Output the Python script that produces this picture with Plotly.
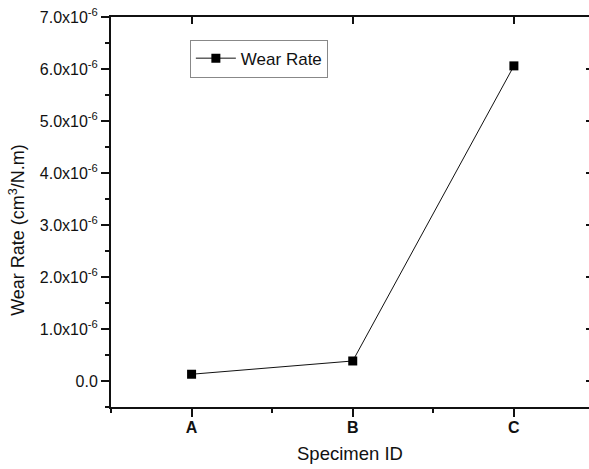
import plotly.graph_objects as go

categories = ["A", "B", "C"]
wear_rate = [0.13e-6, 0.385e-6, 6.06e-6]
y_tick_vals = [0, 1e-6, 2e-6, 3e-6, 4e-6, 5e-6, 6e-6, 7e-6]
y_tick_text = ["0.0", "1.0x10<sup>-6</sup>", "2.0x10<sup>-6</sup>", "3.0x10<sup>-6</sup>",
               "4.0x10<sup>-6</sup>", "5.0x10<sup>-6</sup>", "6.0x10<sup>-6</sup>", "7.0x10<sup>-6</sup>"]

x_idx = list(range(len(categories)))
FONT = "Arial, 'Liberation Sans', sans-serif"
XR = [-0.5, 2.466]
YR = [-0.5e-6, 7.0e-6]

fig = go.Figure()
fig.add_trace(go.Scatter(
    x=x_idx, y=wear_rate, mode="lines+markers", name="Wear Rate",
    line=dict(color="#111", width=1),
    marker=dict(symbol="square", size=9, color="#000"),
))
# invisible trace to anchor the mirrored (top/right) axes
fig.add_trace(go.Scatter(
    x=x_idx, y=wear_rate, xaxis="x2", yaxis="y2", mode="lines",
    line=dict(width=0), opacity=0, showlegend=False, hoverinfo="skip",
))

fig.update_layout(
    width=589, height=469,
    margin=dict(l=111, r=0, t=17, b=62),
    paper_bgcolor="white", plot_bgcolor="white",
    font=dict(family=FONT, color="#111"),
    showlegend=True,
    legend=dict(
        x=0.165, y=0.942, xanchor="left", yanchor="top",
        bordercolor="#888", borderwidth=1, bgcolor="white",
        font=dict(size=17, family=FONT, color="#111"),
        itemwidth=40, tracegroupgap=0,
    ),
    xaxis=dict(
        range=XR, tickvals=x_idx, ticktext=["<b>%s</b>" % c for c in categories],
        tickfont=dict(size=16, family=FONT, color="#111"),
        showline=True, linecolor="#111", linewidth=2, mirror=False,
        ticks="outside", ticklen=8, tickwidth=1.5, tickcolor="#111",
        ticklabelstandoff=-3,
        minor=dict(dtick=0.5, tick0=0.5, ticks="outside", ticklen=4, tickwidth=1.5, tickcolor="#111"),
        showgrid=False, zeroline=False,
    ),
    xaxis2=dict(
        overlaying="x", side="top", anchor="y", range=XR, tickvals=x_idx,
        showticklabels=False, showline=True, linecolor="#111", linewidth=2,
        ticks="inside", ticklen=7, tickwidth=1.5, tickcolor="#111",
        showgrid=False, zeroline=False,
    ),
    yaxis=dict(
        range=YR, tickvals=y_tick_vals, ticktext=y_tick_text,
        tickfont=dict(size=16, family=FONT, color="#111"),
        showline=True, linecolor="#111", linewidth=2, mirror=False,
        ticks="outside", ticklen=8, tickwidth=1.5, tickcolor="#111",
        minor=dict(dtick=0.5e-6, tick0=-0.5e-6, ticks="outside", ticklen=4, tickwidth=1.5, tickcolor="#111"),
        showgrid=False, zeroline=False,
    ),
    yaxis2=dict(
        overlaying="y", side="right", anchor="x", range=YR, tickvals=y_tick_vals,
        showticklabels=False, showline=False,
        ticks="inside", ticklen=3, tickwidth=1.5, tickcolor="#111",
        showgrid=False, zeroline=False,
    ),
    annotations=[
        dict(text="Specimen ID", xref="paper", yref="paper", x=0.5, y=-0.118,
             xanchor="center", yanchor="middle", showarrow=False,
             font=dict(size=18.5, family=FONT, color="#111")),
        dict(text="Wear Rate (cm<sup>3</sup>/N.m)", xref="paper", yref="paper",
             x=-0.196, y=0.455, xanchor="center", yanchor="middle", textangle=-90,
             showarrow=False, font=dict(size=18, family=FONT, color="#111")),
    ],
)

fig.write_html("out.html")
